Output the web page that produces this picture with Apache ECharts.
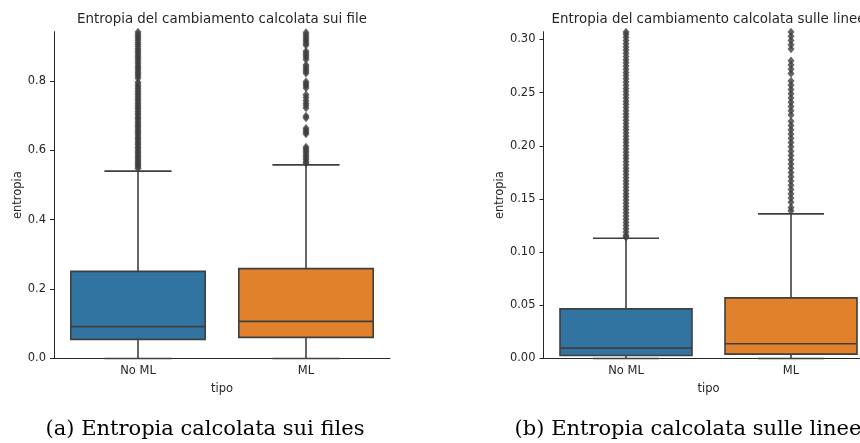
<!DOCTYPE html>
<html>
<head>
<meta charset="utf-8">
<script src="https://cdn.jsdelivr.net/npm/echarts@6/dist/echarts.min.js"></script>
<style>
html,body{margin:0;padding:0;background:#fff;}
#chart{width:860px;height:443px;}
</style>
</head>
<body>
<div id="chart"></div>
<script>
// ---------- data ----------
const categories = ['No ML', 'ML'];

// (a) entropy per file
const filesLow    = [0.0, 0.0];
const filesQ1     = [0.055, 0.061];
const filesMedian = [0.092, 0.107];
const filesQ3     = [0.251, 0.259];
const filesHigh   = [0.540, 0.558];
const filesMax    = 0.942;
const filesTicks  = [0.0, 0.2, 0.4, 0.6, 0.8];
const filesOutNoML = [0.548, 0.553, 0.558, 0.562, 0.567, 0.572, 0.578, 0.583, 0.588, 0.594, 0.599, 0.605, 0.61, 0.616, 0.621, 0.627, 0.633, 0.638, 0.644, 0.65, 0.655, 0.661, 0.667, 0.672, 0.678, 0.684, 0.69, 0.695, 0.701, 0.707, 0.713, 0.719, 0.724, 0.73, 0.736, 0.742, 0.748, 0.754, 0.76, 0.766, 0.772, 0.778, 0.784, 0.79, 0.796, 0.808, 0.814, 0.82, 0.826, 0.832, 0.838, 0.844, 0.85, 0.857, 0.863, 0.869, 0.875, 0.881, 0.887, 0.893, 0.899, 0.905, 0.911, 0.917, 0.923, 0.929, 0.935, 0.941];
const filesOutML = [0.563, 0.568, 0.574, 0.58, 0.586, 0.592, 0.598, 0.604, 0.61, 0.647, 0.652, 0.658, 0.664, 0.693, 0.699, 0.722, 0.729, 0.736, 0.744, 0.752, 0.76, 0.78, 0.786, 0.792, 0.798, 0.822, 0.828, 0.834, 0.84, 0.846, 0.862, 0.868, 0.874, 0.88, 0.886, 0.903, 0.909, 0.915, 0.921, 0.927, 0.933, 0.94];

// (b) entropy per line
const linesLow    = [0.0, 0.0];
const linesQ1     = [0.0028, 0.0041];
const linesMedian = [0.0098, 0.0138];
const linesQ3     = [0.0467, 0.057];
const linesHigh   = [0.1131, 0.136];
const linesMax    = 0.3073;
const linesTicks  = [0.0, 0.05, 0.10, 0.15, 0.20, 0.25, 0.30];
const linesOutNoML = [0.114, 0.116, 0.119, 0.122, 0.125, 0.128, 0.131, 0.134, 0.137, 0.14, 0.143, 0.146, 0.149, 0.152, 0.155, 0.158, 0.161, 0.164, 0.167, 0.17, 0.173, 0.176, 0.179, 0.182, 0.185, 0.188, 0.191, 0.194, 0.197, 0.2, 0.203, 0.206, 0.209, 0.212, 0.215, 0.218, 0.221, 0.224, 0.227, 0.23, 0.233, 0.236, 0.239, 0.242, 0.245, 0.248, 0.251, 0.254, 0.257, 0.26, 0.263, 0.266, 0.269, 0.272, 0.275, 0.278, 0.281, 0.284, 0.287, 0.29, 0.293, 0.296, 0.299, 0.302, 0.305, 0.307];
const linesOutML = [0.139, 0.142, 0.147, 0.151, 0.155, 0.159, 0.163, 0.167, 0.171, 0.175, 0.179, 0.183, 0.187, 0.191, 0.195, 0.199, 0.203, 0.207, 0.211, 0.215, 0.219, 0.223, 0.229, 0.233, 0.237, 0.241, 0.245, 0.249, 0.253, 0.257, 0.261, 0.268, 0.272, 0.276, 0.28, 0.291, 0.295, 0.299, 0.303, 0.307];

// ---------- styles ----------
const boxColors = ['#3274a1', '#e1812c'];
const edge = '#3f3f3f';
const ink = '#262626';
const fs = 11.5;

function boxData(low, q1, med, q3, high) {
  return categories.map((c, i) => [i, low[i], q1[i], med[i], q3[i], high[i]]);
}
function outData(noml, ml) {
  return noml.map(v => [0, v]).concat(ml.map(v => [1, v]));
}

function renderBox(params, api) {
  const cat = api.value(0);
  const x = api.coord([cat, api.value(3)])[0];
  const band = api.size([1, 0])[0];
  const w = band * 0.8;
  const yLow = api.coord([cat, api.value(1)])[1];
  const yQ1 = api.coord([cat, api.value(2)])[1];
  const yMed = api.coord([cat, api.value(3)])[1];
  const yQ3 = api.coord([cat, api.value(4)])[1];
  const yHigh = api.coord([cat, api.value(5)])[1];
  const ls = { stroke: edge, lineWidth: 1.6 };
  return {
    type: 'group',
    children: [
      { type: 'line', shape: { x1: x, y1: yQ1, x2: x, y2: yLow }, style: ls },
      { type: 'line', shape: { x1: x - w / 4, y1: yLow, x2: x + w / 4, y2: yLow }, style: ls },
      { type: 'line', shape: { x1: x, y1: yQ3, x2: x, y2: yHigh }, style: ls },
      { type: 'line', shape: { x1: x - w / 4, y1: yHigh, x2: x + w / 4, y2: yHigh }, style: ls },
      { type: 'rect', shape: { x: x - w / 2, y: yQ3, width: w, height: yQ1 - yQ3 },
        style: { fill: boxColors[cat], stroke: edge, lineWidth: 1.6 } },
      { type: 'line', shape: { x1: x - w / 2, y1: yMed, x2: x + w / 2, y2: yMed }, style: ls }
    ]
  };
}

function xAxisCfg(gi) {
  return {
    type: 'category', gridIndex: gi, data: categories,
    name: 'tipo', nameLocation: 'middle', nameGap: 25,
    nameTextStyle: { fontFamily: 'DejaVu Sans', fontSize: fs, color: ink },
    axisLine: { lineStyle: { color: ink, width: 1 } },
    axisTick: { alignWithLabel: true, length: 4, lineStyle: { color: ink } },
    axisLabel: { fontFamily: 'DejaVu Sans', fontSize: fs, color: ink, margin: 7 },
    splitLine: { show: false }
  };
}
function yAxisCfg(gi, max, ticks, dec, gap) {
  return {
    type: 'value', gridIndex: gi, min: 0, max: max,
    name: 'entropia', nameLocation: 'middle', nameGap: gap, nameRotate: 90,
    nameTextStyle: { fontFamily: 'DejaVu Sans', fontSize: fs, color: ink },
    axisLine: { show: true, lineStyle: { color: ink, width: 1 } },
    axisTick: { show: true, length: 4, lineStyle: { color: ink }, customValues: ticks },
    axisLabel: { fontFamily: 'DejaVu Sans', fontSize: fs, color: ink, margin: 8,
      customValues: ticks, formatter: v => Number(v).toFixed(dec) },
    splitLine: { show: false }
  };
}

const chart = echarts.init(document.getElementById('chart'), null, { renderer: 'canvas' });
chart.setOption({
  animation: false,
  backgroundColor: '#ffffff',
  grid: [
    { left: 54, right: 470, top: 31.7, bottom: 84.5, containLabel: false, outerBoundsMode: 'none' },
    { left: 543.5, right: -13.5, top: 31.7, bottom: 84.5, containLabel: false, outerBoundsMode: 'none' }
  ],
  xAxis: [xAxisCfg(0), xAxisCfg(1)],
  yAxis: [yAxisCfg(0, filesMax, filesTicks, 1, 30), yAxisCfg(1, linesMax, linesTicks, 2, 37)],
  series: [
    { type: 'custom', xAxisIndex: 0, yAxisIndex: 0, renderItem: renderBox,
      data: boxData(filesLow, filesQ1, filesMedian, filesQ3, filesHigh), z: 3 },
    { type: 'custom', xAxisIndex: 1, yAxisIndex: 1, renderItem: renderBox,
      data: boxData(linesLow, linesQ1, linesMedian, linesQ3, linesHigh), z: 3 },
    { type: 'scatter', xAxisIndex: 0, yAxisIndex: 0, symbol: 'diamond', symbolSize: [7, 8.5],
      itemStyle: { color: edge }, clip: true, data: outData(filesOutNoML, filesOutML), z: 4 },
    { type: 'scatter', xAxisIndex: 1, yAxisIndex: 1, symbol: 'diamond', symbolSize: [7, 8.5],
      itemStyle: { color: edge }, clip: true, data: outData(linesOutNoML, linesOutML), z: 4 }
  ],
  graphic: [
    { type: 'text', x: 222, y: 20, style: { text: 'Entropia del cambiamento calcolata sui file',
      font: '13.4px "DejaVu Sans"', fill: ink, textAlign: 'center', textVerticalAlign: 'middle' } },
    { type: 'text', x: 708.5, y: 20, style: { text: 'Entropia del cambiamento calcolata sulle linee',
      font: '13.4px "DejaVu Sans"', fill: ink, textAlign: 'center', textVerticalAlign: 'middle' } },
    { type: 'text', x: 205, y: 430, style: { text: '(a) Entropia calcolata sui files',
      font: '21px "DejaVu Serif"', fill: '#000', textAlign: 'center', textVerticalAlign: 'middle' } },
    { type: 'text', x: 688, y: 430, style: { text: '(b) Entropia calcolata sulle linee',
      font: '21px "DejaVu Serif"', fill: '#000', textAlign: 'center', textVerticalAlign: 'middle' } }
  ]
});
</script>
</body>
</html>
